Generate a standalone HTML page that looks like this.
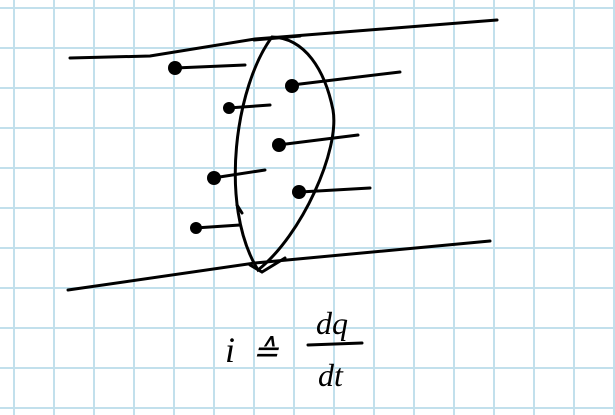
<!DOCTYPE html>
<html><head><meta charset="utf-8"><style>
html,body{margin:0;padding:0;background:#fff}
svg{display:block}
</style></head><body>
<svg width="615" height="415" viewBox="0 0 615 415">
<defs>
<pattern id="grid" x="13" y="7" width="40" height="40" patternUnits="userSpaceOnUse">
<path d="M1 0V40M0 1H40" stroke="#c2e0ec" stroke-width="2" fill="none"/>
</pattern>
</defs>
<rect width="615" height="415" fill="url(#grid)"/>
<g stroke="#000" stroke-width="3" fill="none" stroke-linecap="round">
<path d="M70 58 L150 56 L255 39 L497 20"/>
<path d="M68 290 L255 263 L490 241"/>
<path d="M272 37 C236 85 218 205 258 270 C302 235 340 150 333 110 C325 70 305 38 272 37 Z M254 40 L300 36 M250 265 L262 272 L285 258"/>
<path d="M175 68 L245 65"/>
<path d="M292 85 L400 72"/>
<path d="M228 108 L270 105"/>
<path d="M278 145 L358 135"/>
<path d="M213 178 L265 170"/>
<path d="M300 192 L370 188"/>
<path d="M195 228 L240 225"/>
<path d="M237 205 L242 213"/>
<path d="M308 345 L362 343"/>
</g>
<g fill="#000">
<circle cx="175" cy="68" r="7"/>
<circle cx="292" cy="86" r="7"/>
<circle cx="229" cy="108" r="6"/>
<circle cx="279" cy="145" r="7"/>
<circle cx="214" cy="178" r="7"/>
<circle cx="299" cy="192" r="7"/>
<circle cx="196" cy="228" r="6"/>
</g>
<g font-family="'Liberation Serif', serif" font-style="italic" fill="#000">
<text x="225" y="362" font-size="36">i</text>
<text x="252" y="362" font-size="32">≙</text>
<text x="316" y="334" font-size="32">dq</text>
<text x="318" y="386" font-size="32">dt</text>
</g>
</svg>
</body></html>
